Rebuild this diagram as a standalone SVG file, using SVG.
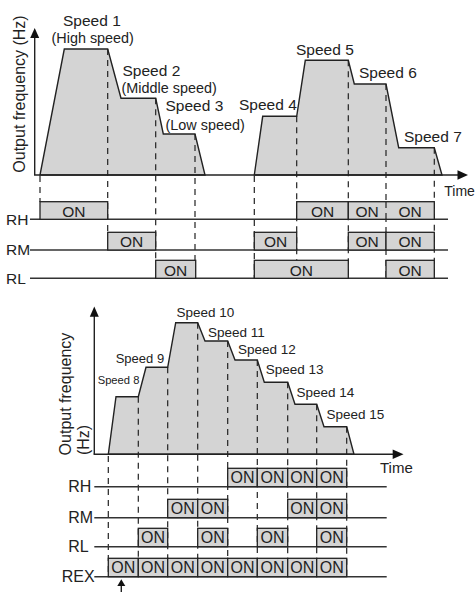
<svg xmlns="http://www.w3.org/2000/svg" width="476" height="592" viewBox="0 0 476 592">
<style>
text{font-family:"Liberation Sans",Arial,sans-serif;fill:#222}
.area{fill:#d4d4d4;stroke:#222;stroke-width:1.4;stroke-linejoin:miter}
.axis{stroke:#222;stroke-width:1.4;fill:none}
.head{fill:#111}
.dash{stroke:#222;stroke-width:1.2;stroke-dasharray:6 5;fill:none}
.row{stroke:#333;stroke-width:1.5;fill:none}
.box{fill:#d4d4d4;stroke:#222;stroke-width:1.3}
.on1{font-size:15.5px;text-anchor:middle}
.on2{font-size:16px;text-anchor:middle}
.sp{font-size:15.5px}
.spp{font-size:14.4px}
.sb{font-size:13.5px}
.lab1{font-size:15.5px}
.lab2{font-size:16px}
</style>

<g id="top-chart">
  <polygon class="area" points="40,175 64.3,49 107.7,49 121,98.3 155.7,98.3 163.3,134 195,134 205,175"/>
  <polygon class="area" points="254.3,175 262.7,116.3 296.7,116.3 305.3,60.3 348.3,60.3 354.3,84 386,84 398.7,147.7 434.3,147.7 442,175"/>
  <g id="top-dashes">
    <line class="dash" x1="40" y1="176" x2="40" y2="202"/>
    <line class="dash" x1="107.7" y1="49" x2="107.7" y2="232"/>
    <line class="dash" x1="155.7" y1="98.3" x2="155.7" y2="260"/>
    <line class="dash" x1="195" y1="134" x2="195" y2="278"/>
    <line class="dash" x1="254.3" y1="176" x2="254.3" y2="278"/>
    <line class="dash" x1="296.7" y1="116.3" x2="296.7" y2="278"/>
    <line class="dash" x1="348.3" y1="60.3" x2="348.3" y2="278"/>
    <line class="dash" x1="386" y1="84" x2="386" y2="278"/>
    <line class="dash" x1="434.3" y1="147.7" x2="434.3" y2="278"/>
  </g>
  <line class="axis" x1="34.7" y1="175" x2="34.7" y2="36"/>
  <polygon class="head" points="34.7,28 30.2,38 39.2,38"/>
  <line class="axis" x1="34" y1="175" x2="459" y2="175"/>
  <polygon class="head" points="468,175 457.5,170.3 457.5,179.7"/>
  <text transform="translate(25,94) rotate(-90)" class="lab2" text-anchor="middle">Output frequency (Hz)</text>
  <text class="sp" x="63" y="26">Speed 1</text>
  <text class="spp" x="51.5" y="43">(High speed)</text>
  <text class="sp" x="122.5" y="76">Speed 2</text>
  <text class="spp" x="121.5" y="93.3">(Middle speed)</text>
  <text class="sp" x="165.5" y="111">Speed 3</text>
  <text class="spp" x="165.5" y="130">(Low speed)</text>
  <text class="sp" x="239" y="110">Speed 4</text>
  <text class="sp" x="296" y="55">Speed 5</text>
  <text class="sp" x="359" y="78.3">Speed 6</text>
  <text class="sp" x="404" y="141.7">Speed 7</text>
  <text x="444.3" y="196" font-size="14">Time</text>
</g>

<g id="top-timing">
  <g id="top-RH">
    <line class="row" x1="30" y1="219.3" x2="448" y2="219.3"/>
    <text class="lab1" x="6" y="225">RH</text>
    <rect class="box" x="40" y="201.7" width="67.7" height="17.6"/><text class="on1" x="73.8" y="216.5">ON</text>
    <rect class="box" x="296.7" y="201.7" width="51.6" height="17.6"/><text class="on1" x="322.5" y="216.5">ON</text>
    <rect class="box" x="348.3" y="201.7" width="86" height="17.6"/><text class="on1" x="367.2" y="216.5">ON</text><text class="on1" x="410.2" y="216.5">ON</text>
    <line class="dash" x1="386" y1="202" x2="386" y2="219"/>
  </g>
  <g id="top-RM">
    <line class="row" x1="30" y1="250" x2="448" y2="250"/>
    <text class="lab1" x="6" y="255">RM</text>
    <rect class="box" x="107.7" y="232.3" width="48" height="17.7"/><text class="on1" x="131.7" y="247.2">ON</text>
    <rect class="box" x="254.3" y="232.3" width="42.4" height="17.7"/><text class="on1" x="275.5" y="247.2">ON</text>
    <rect class="box" x="348.3" y="232.3" width="37.7" height="17.7"/><text class="on1" x="367.2" y="247.2">ON</text>
    <rect class="box" x="386" y="232.3" width="48.3" height="17.7"/><text class="on1" x="410.2" y="247.2">ON</text>
  </g>
  <g id="top-RL">
    <line class="row" x1="30" y1="278.3" x2="448" y2="278.3"/>
    <text class="lab1" x="6" y="283.5">RL</text>
    <rect class="box" x="155.7" y="260.3" width="40" height="18"/><text class="on1" x="175.7" y="275.5">ON</text>
    <rect class="box" x="254.3" y="260.3" width="94" height="18"/><text class="on1" x="301.3" y="275.5">ON</text>
    <rect class="box" x="386" y="260.3" width="48.3" height="18"/><text class="on1" x="410.2" y="275.5">ON</text>
  </g>
</g>

<g id="bottom-chart">
  <polygon class="area" points="108.3,454.3 116,396.7 138.3,396.7 146,367.3 167.7,367.3 175.7,322.7 197.7,322.7 205,341 227.7,341 235,360 257.3,360 264.3,382.3 287.7,382.3 295,404.3 316.7,404.3 324,426.7 346.7,426.7 354,454.3"/>
  <g id="bottom-dashes">
    <line class="dash" x1="108.3" y1="456" x2="108.3" y2="576"/>
    <line class="dash" x1="138.3" y1="396.7" x2="138.3" y2="576"/>
    <line class="dash" x1="167.7" y1="367.3" x2="167.7" y2="576"/>
    <line class="dash" x1="197.7" y1="322.7" x2="197.7" y2="576"/>
    <line class="dash" x1="227.7" y1="341" x2="227.7" y2="576"/>
    <line class="dash" x1="257.3" y1="360" x2="257.3" y2="576"/>
    <line class="dash" x1="287.7" y1="382.3" x2="287.7" y2="576"/>
    <line class="dash" x1="316.7" y1="404.3" x2="316.7" y2="576"/>
    <line class="dash" x1="346.7" y1="426.7" x2="346.7" y2="576"/>
  </g>
  <line class="axis" x1="94.3" y1="454.3" x2="94.3" y2="315"/>
  <polygon class="head" points="94.3,306.5 89.8,316.7 98.8,316.7"/>
  <line class="axis" x1="93.6" y1="454.3" x2="394" y2="454.3"/>
  <polygon class="head" points="403.5,454.3 392.7,449.6 392.7,459"/>
  <text transform="translate(70.7,394) rotate(-90)" class="lab2" text-anchor="middle">Output frequency</text>
  <text transform="translate(89.3,440) rotate(-90)" class="lab2" text-anchor="middle">(Hz)</text>
  <text x="97.7" y="384" font-size="11.2">Speed 8</text>
  <text x="115.7" y="362.7" font-size="13">Speed 9</text>
  <text class="sb" x="176.5" y="317.3">Speed 10</text>
  <text class="sb" x="208" y="336.7">Speed 11</text>
  <text class="sb" x="238" y="354.3">Speed 12</text>
  <text class="sb" x="265.8" y="374.3">Speed 13</text>
  <text class="sb" x="296.5" y="396.7">Speed 14</text>
  <text class="sb" x="326.5" y="419.3">Speed 15</text>
  <text x="380" y="473.3" font-size="15">Time</text>
</g>

<g id="bottom-timing">
  <g id="bot-RH">
    <line class="row" x1="94.3" y1="486.7" x2="386.7" y2="486.7"/>
    <text class="lab2" x="68.3" y="491.7">RH</text>
    <rect class="box" x="227.7" y="468.3" width="29.6" height="18.4"/><text class="on2" x="242.5" y="483.3">ON</text>
    <rect class="box" x="257.3" y="468.3" width="30.4" height="18.4"/><text class="on2" x="272.5" y="483.3">ON</text>
    <rect class="box" x="287.7" y="468.3" width="29" height="18.4"/><text class="on2" x="302.2" y="483.3">ON</text>
    <rect class="box" x="316.7" y="468.3" width="30" height="18.4"/><text class="on2" x="331.7" y="483.3">ON</text>
  </g>
  <g id="bot-RM">
    <line class="row" x1="94.3" y1="517.7" x2="386.7" y2="517.7"/>
    <text class="lab2" x="68.3" y="522.7">RM</text>
    <rect class="box" x="167.7" y="499.3" width="30" height="18.4"/><text class="on2" x="182.7" y="514.3">ON</text>
    <rect class="box" x="197.7" y="499.3" width="30" height="18.4"/><text class="on2" x="212.7" y="514.3">ON</text>
    <rect class="box" x="287.7" y="499.3" width="29" height="18.4"/><text class="on2" x="302.2" y="514.3">ON</text>
    <rect class="box" x="316.7" y="499.3" width="30" height="18.4"/><text class="on2" x="331.7" y="514.3">ON</text>
  </g>
  <g id="bot-RL">
    <line class="row" x1="94.3" y1="546.7" x2="386.7" y2="546.7"/>
    <text class="lab2" x="68.3" y="552.3">RL</text>
    <rect class="box" x="138.3" y="528.3" width="29.4" height="18.4"/><text class="on2" x="153" y="543.3">ON</text>
    <rect class="box" x="197.7" y="528.3" width="30" height="18.4"/><text class="on2" x="212.7" y="543.3">ON</text>
    <rect class="box" x="257.3" y="528.3" width="30.4" height="18.4"/><text class="on2" x="272.5" y="543.3">ON</text>
    <rect class="box" x="316.7" y="528.3" width="30" height="18.4"/><text class="on2" x="331.7" y="543.3">ON</text>
  </g>
  <g id="bot-REX">
    <line class="row" x1="94.3" y1="576.7" x2="386.7" y2="576.7"/>
    <text class="lab2" x="61.7" y="581.7">REX</text>
    <rect class="box" x="108.3" y="558.3" width="30" height="18.4"/><text class="on2" x="123.3" y="573.3">ON</text>
    <rect class="box" x="138.3" y="558.3" width="29.4" height="18.4"/><text class="on2" x="153" y="573.3">ON</text>
    <rect class="box" x="167.7" y="558.3" width="30" height="18.4"/><text class="on2" x="182.7" y="573.3">ON</text>
    <rect class="box" x="197.7" y="558.3" width="30" height="18.4"/><text class="on2" x="212.7" y="573.3">ON</text>
    <rect class="box" x="227.7" y="558.3" width="29.6" height="18.4"/><text class="on2" x="242.5" y="573.3">ON</text>
    <rect class="box" x="257.3" y="558.3" width="30.4" height="18.4"/><text class="on2" x="272.5" y="573.3">ON</text>
    <rect class="box" x="287.7" y="558.3" width="29" height="18.4"/><text class="on2" x="302.2" y="573.3">ON</text>
    <rect class="box" x="316.7" y="558.3" width="30" height="18.4"/><text class="on2" x="331.7" y="573.3">ON</text>
  </g>
  <g id="rex-arrow">
    <line class="axis" x1="121.3" y1="585" x2="121.3" y2="592"/>
    <polygon class="head" points="121.3,579.3 117.3,586 125.3,586"/>
  </g>
</g>
</svg>
